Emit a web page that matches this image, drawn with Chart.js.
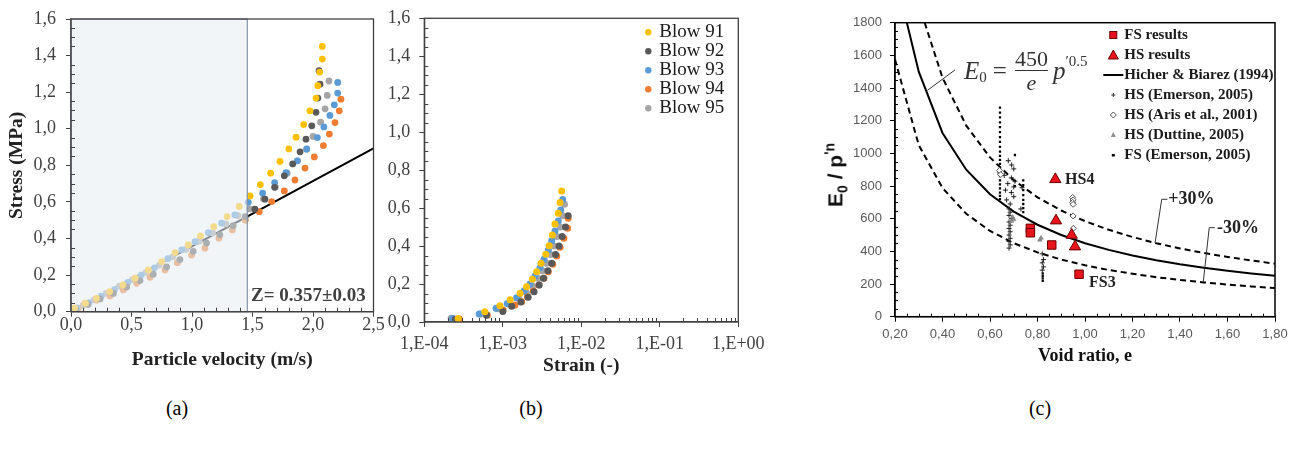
<!DOCTYPE html>
<html>
<head>
<meta charset="utf-8">
<script src="https://cdn.jsdelivr.net/npm/chart.js@4.4.0/dist/chart.umd.min.js"></script>
<style>
  body { margin: 0; background: #fff; width: 1298px; height: 452px; position: relative; overflow: hidden; font-family: "Liberation Serif", serif; }
  .panel { position: absolute; top: 0; height: 380px; }
  #boxA { left: 0; width: 390px; }
  #boxB { left: 340px; width: 440px; }
  #boxC { left: 800px; width: 498px; }
  .cap { position: absolute; top: 397px; font-size: 20px; color: #000; transform: translateX(-50%); }
  #eq { position: absolute; left: 964px; top: 47px; font-family: "Liberation Serif", serif; font-size: 25px; color: #333; display: flex; align-items: center; white-space: nowrap; }
  #eq .it { font-style: italic; }
  #eq .sub { font-size: 15px; position: relative; top: 7px; margin-right: 6px; }
  #eq .op { margin-right: 8px; }
  #eq .frac { display: inline-flex; flex-direction: column; align-items: center; font-size: 22px; line-height: 1.05; margin-right: 5px; }
  #eq .den { border-top: 1.5px solid #333; align-self: stretch; text-align: center; font-style: italic; }
  #eq .sup { font-size: 15px; position: relative; top: -9px; }
  #yTitleC { position: absolute; left: 836px; top: 175px; transform: translate(-50%, -50%) rotate(-90deg); font-family: "Liberation Sans", sans-serif; font-weight: bold; font-size: 21px; color: #111; white-space: nowrap; }
  #yTitleC sub { font-size: 14px; }
  #yTitleC sup { font-size: 14px; }
</style>
</head>
<body>
<div class="panel" id="boxA"><canvas id="chartA"></canvas></div>
<div class="panel" id="boxB"><canvas id="chartB"></canvas></div>
<div class="panel" id="boxC"><canvas id="chartC"></canvas></div>
<div id="eq"><span class="it">E</span><span class="sub">0</span><span class="op">=</span><span class="frac"><span>450</span><span class="den">e</span></span><span class="it">p</span><span class="sup">′0.5</span></div>
<div id="yTitleC">E<sub>0</sub> / p<sup>'n</sup></div>
<div class="cap" style="left:177px">(a)</div>
<div class="cap" style="left:531px">(b)</div>
<div class="cap" style="left:1040px">(c)</div>
<script>
// blows
const blowNames = ['Blow 91', 'Blow 92', 'Blow 93', 'Blow 94', 'Blow 95'];
const blowColors = ['#FFC000', '#595959', '#5B9BD5', '#ED7D31', '#A5A5A5'];

// (a) stress vs particle velocity
const velocity91 = [0.03, 0.12, 0.21, 0.32, 0.43, 0.53, 0.64, 0.75, 0.86, 0.97, 1.07, 1.18, 1.29, 1.39, 1.48, 1.565, 1.65, 1.727, 1.80, 1.86, 1.923, 1.975, 2.025, 2.04, 2.055, 2.077, 2.077];
const stressA91 = [0.02, 0.046, 0.073, 0.11, 0.146, 0.183, 0.228, 0.274, 0.323, 0.365, 0.414, 0.465, 0.52, 0.575, 0.633, 0.695, 0.757, 0.821, 0.89, 0.954, 1.023, 1.098, 1.168, 1.235, 1.31, 1.381, 1.45];
const velocity92 = [0.04, 0.14, 0.24, 0.35, 0.46, 0.57, 0.68, 0.79, 0.90, 1.01, 1.12, 1.23, 1.34, 1.44, 1.52, 1.603, 1.683, 1.763, 1.832, 1.893, 1.942, 1.99, 2.025, 2.04, 2.058, 2.05];
const stressA92 = [0.01, 0.04, 0.07, 0.1, 0.135, 0.17, 0.205, 0.245, 0.285, 0.33, 0.375, 0.42, 0.47, 0.52, 0.56, 0.615, 0.68, 0.743, 0.808, 0.874, 0.943, 1.016, 1.09, 1.168, 1.244, 1.317];
const velocity93 = [0.05, 0.15, 0.25, 0.36, 0.47, 0.58, 0.69, 0.80, 0.915, 1.025, 1.135, 1.245, 1.355, 1.465, 1.584, 1.683, 1.777, 1.87, 1.948, 2.036, 2.09, 2.14, 2.176, 2.204, 2.204];
const stressA93 = [0.02, 0.05, 0.085, 0.12, 0.16, 0.2, 0.24, 0.29, 0.338, 0.383, 0.432, 0.484, 0.529, 0.598, 0.648, 0.706, 0.76, 0.825, 0.89, 0.952, 1.01, 1.073, 1.131, 1.195, 1.253];
const velocity94 = [0.06, 0.116, 0.212, 0.322, 0.432, 0.543, 0.653, 0.777, 0.879, 0.997, 1.107, 1.223, 1.333, 1.44, 1.556, 1.659, 1.763, 1.851, 1.934, 2.011, 2.086, 2.135, 2.182, 2.217, 2.231];
const stressA94 = [0.02, 0.046, 0.064, 0.086, 0.119, 0.155, 0.188, 0.228, 0.268, 0.31, 0.347, 0.402, 0.447, 0.50, 0.547, 0.602, 0.66, 0.72, 0.785, 0.846, 0.908, 0.971, 1.034, 1.098, 1.162];
const velocity95 = [0.02, 0.10, 0.19, 0.29, 0.40, 0.51, 0.62, 0.73, 0.84, 0.95, 1.06, 1.17, 1.28, 1.38, 1.474, 1.59, 1.689, 1.787, 1.873, 1.948, 2.0, 2.063, 2.1, 2.118, 2.132];
const stressA95 = [0.01, 0.035, 0.065, 0.1, 0.14, 0.175, 0.215, 0.255, 0.3, 0.34, 0.385, 0.43, 0.48, 0.525, 0.562, 0.617, 0.681, 0.757, 0.825, 0.888, 0.958, 1.036, 1.109, 1.182, 1.261];
const zValue = 0.357;
const zLabel = 'Z= 0.357±0.03';
const zRange = [0, 2.5];

// (b) stress vs strain
const strain91 = [2.7e-4, 5.9e-4, 9.2e-4, 1.24e-3, 1.66e-3, 2.01e-3, 2.38e-3, 2.70e-3, 3.07e-3, 3.52e-3, 3.89e-3, 4.27e-3, 4.62e-3, 5.09e-3, 5.36e-3, 5.62e-3];
const stressB91 = [0.019, 0.054, 0.086, 0.117, 0.151, 0.186, 0.225, 0.265, 0.309, 0.357, 0.402, 0.458, 0.516, 0.573, 0.629, 0.69];
const strain92 = [2.5e-4, 6.2e-4, 1.0e-3, 1.3e-3, 1.7e-3, 2.1e-3, 2.5e-3, 2.9e-3, 3.3e-3, 3.75e-3, 4.2e-3, 4.7e-3, 5.2e-3, 5.7e-3, 6.3e-3, 6.8e-3];
const stressB92 = [0.015, 0.035, 0.055, 0.083, 0.105, 0.13, 0.16, 0.195, 0.23, 0.27, 0.31, 0.355, 0.40, 0.45, 0.50, 0.56];
const strain93 = [2.3e-4, 5.0e-4, 8.2e-4, 1.14e-3, 1.5e-3, 1.86e-3, 2.22e-3, 2.57e-3, 2.98e-3, 3.35e-3, 3.8e-3, 4.2e-3, 4.62e-3, 5.09e-3, 5.46e-3, 5.8e-3];
const stressB93 = [0.019, 0.042, 0.072, 0.098, 0.128, 0.163, 0.2, 0.242, 0.286, 0.33, 0.379, 0.428, 0.479, 0.532, 0.59, 0.646];
const strain94 = [2.8e-4, 6.35e-4, 1.01e-3, 1.43e-3, 1.74e-3, 2.07e-3, 2.45e-3, 2.89e-3, 3.35e-3, 3.8e-3, 4.33e-3, 4.87e-3, 5.36e-3, 6.0e-3, 6.7e-3, 6.8e-3];
const stressB94 = [0.016, 0.037, 0.063, 0.09, 0.107, 0.133, 0.163, 0.195, 0.23, 0.265, 0.304, 0.348, 0.394, 0.441, 0.494, 0.546];
const strain95 = [2.2e-4, 5.2e-4, 8.6e-4, 1.2e-3, 1.6e-3, 2.0e-3, 2.4e-3, 2.8e-3, 3.2e-3, 3.6e-3, 4.05e-3, 4.5e-3, 4.9e-3, 5.4e-3, 5.8e-3, 6.1e-3];
const stressB95 = [0.02, 0.042, 0.07, 0.095, 0.125, 0.155, 0.19, 0.23, 0.27, 0.31, 0.355, 0.40, 0.45, 0.50, 0.56, 0.62];
const strainDecades = [1e-4, 1e-3, 1e-2, 1e-1, 1];

// (c) normalised stiffness vs void ratio
const voidHicher = [0.25, 0.3, 0.4, 0.5, 0.6, 0.7, 0.8, 0.9, 1.0, 1.1, 1.2, 1.3, 1.4, 1.5, 1.6, 1.7, 1.8];
const normHicher = [1800, 1500, 1125, 900, 750, 643, 563, 500, 450, 409, 375, 346, 321, 300, 281, 265, 250];
const voidUpper = [0.325, 0.4, 0.5, 0.6, 0.7, 0.8, 0.9, 1.0, 1.1, 1.2, 1.3, 1.4, 1.5, 1.6, 1.7, 1.8];
const normUpper = [1800, 1463, 1170, 975, 836, 731, 650, 585, 532, 488, 450, 418, 390, 366, 344, 325];
const voidLower = [0.2, 0.3, 0.4, 0.5, 0.6, 0.7, 0.8, 0.9, 1.0, 1.1, 1.2, 1.3, 1.4, 1.5, 1.6, 1.7, 1.8];
const normLower = [1575, 1050, 788, 630, 525, 450, 394, 350, 315, 286, 263, 242, 225, 210, 197, 185, 175];
const fsResVoid = [0.77, 0.77, 0.86, 0.975];
const fsResNorm = [541, 514, 439, 260];
const hsResVoid = [0.875, 0.878, 0.944, 0.958];
const hsResNorm = [841, 588, 500, 429];
const hsEmeVoid = [0.677, 0.691, 0.70, 0.64, 0.66, 0.69, 0.705, 0.675, 0.70, 0.665, 0.69, 0.70, 0.67, 0.685, 0.68, 0.685, 0.68, 0.69, 0.68, 0.685, 0.68, 0.685, 0.68, 0.685, 0.68, 0.685, 0.68, 0.82, 0.825, 0.82, 0.825, 0.82, 0.735, 0.73];
const hsEmeNorm = [955, 929, 905, 880, 865, 850, 830, 815, 795, 775, 760, 735, 715, 690, 660, 640, 620, 600, 580, 560, 540, 520, 500, 480, 460, 440, 420, 385, 350, 330, 305, 285, 790, 660];
const arisVoid = [0.64, 0.645, 0.948, 0.95, 0.948, 0.95, 0.95, 0.951];
const arisNorm = [895, 870, 730, 715, 700, 688, 617, 541];
const duttVoid = [0.695, 0.70, 0.69, 0.81, 0.815, 0.64];
const duttNorm = [610, 595, 585, 470, 482, 900];
const fsEmeVoid = [0.642, 0.642, 0.642, 0.642, 0.642, 0.642, 0.642, 0.642, 0.642, 0.642, 0.642, 0.642, 0.642, 0.642, 0.642, 0.642, 0.642, 0.642, 0.642, 0.642, 0.642, 0.642, 0.705, 0.705, 0.705, 0.74, 0.74, 0.74, 0.74, 0.74, 0.74, 0.74, 0.74, 0.822, 0.822, 0.822, 0.822];
const fsEmeNorm = [1280, 1250, 1220, 1190, 1160, 1130, 1100, 1070, 1040, 1010, 985, 960, 935, 910, 885, 860, 835, 810, 785, 760, 740, 720, 990, 830, 800, 835, 805, 775, 745, 715, 690, 665, 640, 265, 250, 235, 220];
const legendC = ['FS results', 'HS results', 'Hicher & Biarez (1994)', 'HS (Emerson, 2005)', 'HS (Aris et al., 2001)', 'HS (Duttine, 2005)', 'FS (Emerson, 2005)'];

function pairs(xs, ys) {
    return xs.map((x, i) => ({ x: x, y: ys[i] }));
}

const serif = '"Liberation Serif", serif';
const sans = '"Liberation Sans", sans-serif';
Chart.defaults.font.family = serif;
Chart.defaults.animation = false;

// little inward ticks between the labelled ones
function minorTicks(xVals, yVals, len, color) {
    return {
        id: 'minorTicks',
        afterDraw(chart) {
            const { ctx, chartArea: a, scales: { x, y } } = chart;
            ctx.save();
            ctx.strokeStyle = color;
            ctx.lineWidth = 1;
            ctx.beginPath();
            xVals.forEach(v => {
                const px = Math.round(x.getPixelForValue(v)) + 0.5;
                ctx.moveTo(px, a.bottom);
                ctx.lineTo(px, a.bottom - len);
            });
            yVals.forEach(v => {
                const py = Math.round(y.getPixelForValue(v)) + 0.5;
                ctx.moveTo(a.left, py);
                ctx.lineTo(a.left + len, py);
            });
            ctx.stroke();
            ctx.restore();
        }
    };
}

// plot frame
function frame(color, width) {
    return {
        id: 'frame',
        afterDraw(chart) {
            const { ctx, chartArea: a } = chart;
            ctx.save();
            ctx.strokeStyle = color;
            ctx.lineWidth = width;
            ctx.strokeRect(a.left, a.top, a.right - a.left, a.bottom - a.top);
            ctx.restore();
        }
    };
}

function axisOpts(color, fontSize, pad, family) {
    return {
        grid: { drawOnChartArea: false, drawTicks: true, tickLength: 5, color: color },
        border: { color: color, width: 1.3 },
        ticks: { color: color, padding: pad, font: { family: family, size: fontSize, lineHeight: 1 } }
    };
}

function comma(d) {
    return v => v.toFixed(d).replace('.', ',');
}

// ---------- (a) ----------
const velTicksMinor = [];
for (let i = 1; i < 25; i++) if (i % 5) velTicksMinor.push(i / 10);
const stressTicksMinor = [];
for (let i = 1; i < 32; i++) if (i % 4) stressTicksMinor.push(i * 0.05);

const velocities = [velocity91, velocity92, velocity93, velocity94, velocity95];
const stressesA = [stressA91, stressA92, stressA93, stressA94, stressA95];
const shadeTo = 1.457;

const shadeZone = {
    id: 'shadeZone',
    afterDatasetsDraw(chart) {
        const { ctx, chartArea: a, scales: { x, y } } = chart;
        const xr = x.getPixelForValue(shadeTo);
        ctx.save();
        ctx.fillStyle = 'rgba(232, 237, 242, 0.58)';
        ctx.fillRect(a.left, a.top, xr - a.left, a.bottom - a.top);
        ctx.strokeStyle = '#8493a8';
        ctx.lineWidth = 1.2;
        ctx.strokeRect(a.left, a.top, xr - a.left, a.bottom - a.top);
        ctx.font = 'bold 19px ' + serif;
        ctx.fillStyle = '#404040';
        ctx.textBaseline = 'middle';
        ctx.fillText(zLabel, x.getPixelForValue(1.488), y.getPixelForValue(0.086));
        ctx.restore();
    }
};

const axA = axisOpts('#404040', 18, 0, serif);
const ayA = axisOpts('#404040', 18, 10, serif);
new Chart(document.getElementById('chartA'), {
    type: 'scatter',
    data: {
        datasets: blowNames.map((name, i) => ({
            label: name,
            data: pairs(velocities[i], stressesA[i]),
            backgroundColor: blowColors[i],
            borderWidth: 0,
            pointRadius: 3.4
        })).concat([{
            label: 'Z',
            data: pairs(zRange, zRange.map(v => v * zValue)),
            showLine: true,
            borderColor: '#000',
            borderWidth: 2,
            pointRadius: 0
        }])
    },
    options: {
        responsive: true,
        maintainAspectRatio: false,
        layout: { padding: { top: 19, right: 16.5, bottom: 0, left: 0 } },
        plugins: { legend: { display: false }, tooltip: { enabled: false } },
        scales: {
            x: Object.assign(axA, {
                type: 'linear', min: 0, max: 2.5,
                ticks: Object.assign(axA.ticks, { stepSize: 0.5, callback: comma(1) }),
                title: { display: true, text: 'Particle velocity (m/s)', color: '#222', font: { size: 19.5, weight: 'bold' }, padding: { top: 0, bottom: 8.3 } },
                afterFit: s => { s.height = 68.3; }
            }),
            y: Object.assign(ayA, {
                min: 0, max: 1.6,
                ticks: Object.assign(ayA.ticks, { stepSize: 0.2, callback: comma(1) }),
                title: { display: true, text: 'Stress (MPa)', color: '#222', font: { size: 19.5, weight: 'bold' }, padding: { top: 5.3, bottom: 0 } },
                afterFit: s => { s.width = 71; }
            })
        }
    },
    plugins: [shadeZone, minorTicks(velTicksMinor, stressTicksMinor, 4, '#404040'), frame('#404040', 1.3)]
});

// ---------- (b) ----------
const strains = [strain91, strain92, strain93, strain94, strain95];
const stressesB = [stressB91, stressB92, stressB93, stressB94, stressB95];
const strainTicksMinor = [];
strainDecades.slice(0, 4).forEach(d => { for (let k = 2; k < 10; k++) strainTicksMinor.push(d * k); });

const legendBlows = {
    id: 'legendBlows',
    afterDraw(chart) {
        const { ctx, chartArea: a } = chart;
        ctx.save();
        ctx.font = '19px ' + serif;
        ctx.textBaseline = 'middle';
        blowNames.forEach((name, i) => {
            const yy = a.top + 14 + i * 19;
            ctx.beginPath();
            ctx.arc(a.right - 90, yy, 3.2, 0, Math.PI * 2);
            ctx.fillStyle = blowColors[i];
            ctx.fill();
            ctx.fillStyle = '#1a1a1a';
            ctx.fillText(name, a.right - 79, yy);
        });
        ctx.restore();
    }
};

function decadeLabel(v) {
    const e = Math.round(Math.log10(v));
    return '1,E' + (e < 0 ? '-' : '+') + String(Math.abs(e)).padStart(2, '0');
}

const axB = axisOpts('#404040', 18, 8, serif);
const ayB = axisOpts('#404040', 18, 9, serif);
new Chart(document.getElementById('chartB'), {
    type: 'scatter',
    data: {
        datasets: blowNames.map((name, i) => ({
            label: name,
            data: pairs(strains[i], stressesB[i]),
            backgroundColor: blowColors[i],
            borderWidth: 0,
            pointRadius: 3.5
        }))
    },
    options: {
        responsive: true,
        maintainAspectRatio: false,
        layout: { padding: { top: 18.3, right: 41.7, bottom: 0, left: 0 } },
        plugins: { legend: { display: false }, tooltip: { enabled: false } },
        scales: {
            x: Object.assign(axB, {
                type: 'logarithmic', min: 1e-4, max: 1,
                afterBuildTicks: s => { s.ticks = strainDecades.map(v => ({ value: v })); },
                ticks: Object.assign(axB.ticks, { callback: decadeLabel }),
                title: { display: true, text: 'Strain (-)', color: '#222', font: { size: 19.5, weight: 'bold' }, padding: { top: 0, bottom: 2.6 } },
                afterFit: s => { s.height = 58; }
            }),
            y: Object.assign(ayB, {
                min: 0, max: 1.6,
                ticks: Object.assign(ayB.ticks, { stepSize: 0.2, callback: comma(1) }),
                afterFit: s => { s.width = 84.3; }
            })
        }
    },
    plugins: [legendBlows, minorTicks(strainTicksMinor, stressTicksMinor, 4, '#404040'), frame('#404040', 1.3)]
});

// ---------- (c) ----------
const voidTicksMinor = [];
for (let i = 5; i < 36; i++) if (i % 4 !== 0) voidTicksMinor.push(i * 0.05);
const normTicksMinor = [];
for (let i = 1; i < 36; i++) if (i % 4) normTicksMinor.push(i * 50);

const red = '#e8141b';
const redEdge = '#6b0000';

const notes = {
    id: 'notes',
    afterDraw(chart) {
        const { ctx, scales: { x, y } } = chart;
        const P = (e, v) => [x.getPixelForValue(e), y.getPixelForValue(v)];
        const path = pts => {
            ctx.beginPath();
            pts.forEach((p, i) => { const q = P(p[0], p[1]); i ? ctx.lineTo(q[0], q[1]) : ctx.moveTo(q[0], q[1]); });
            ctx.stroke();
        };
        ctx.save();
        ctx.strokeStyle = '#333';
        ctx.lineWidth = 1;
        path([[0.4526, 1511], [0.336, 1385]]);
        path([[1.347, 719], [1.323, 719], [1.295, 452]]);
        path([[1.547, 545], [1.523, 545], [1.498, 212]]);
        ctx.fillStyle = '#222';
        ctx.textBaseline = 'middle';
        ctx.font = 'bold 18px ' + serif;
        let q = P(1.35, 716); ctx.fillText('+30%', q[0], q[1]);
        q = P(1.556, 540); ctx.fillText('-30%', q[0], q[1]);
        ctx.font = 'bold 16px ' + serif;
        q = P(0.916, 838); ctx.fillText('HS4', q[0], q[1]);
        q = P(1.017, 206); ctx.fillText('FS3', q[0], q[1]);

        // legend
        const a = chart.chartArea;
        const mx = a.right - 161.7;
        ctx.font = 'bold 15px ' + serif;
        legendC.forEach((name, i) => {
            const yy = a.top + 12.3 + i * 20;
            ctx.lineWidth = 1;
            if (i === 0) {
                ctx.fillStyle = red; ctx.strokeStyle = redEdge;
                ctx.fillRect(mx - 3.5, yy - 3.5, 7, 7); ctx.strokeRect(mx - 3.5, yy - 3.5, 7, 7);
            } else if (i === 1) {
                ctx.fillStyle = red; ctx.strokeStyle = redEdge;
                ctx.beginPath(); ctx.moveTo(mx, yy - 5); ctx.lineTo(mx + 5, yy + 4); ctx.lineTo(mx - 5, yy + 4); ctx.closePath();
                ctx.fill(); ctx.stroke();
            } else if (i === 2) {
                ctx.strokeStyle = '#000'; ctx.lineWidth = 2;
                ctx.beginPath(); ctx.moveTo(mx - 10, yy); ctx.lineTo(mx + 10, yy); ctx.stroke();
            } else if (i === 3) {
                ctx.strokeStyle = '#333';
                ctx.beginPath(); ctx.moveTo(mx - 2, yy); ctx.lineTo(mx + 2, yy); ctx.moveTo(mx, yy - 2); ctx.lineTo(mx, yy + 2); ctx.stroke();
            } else if (i === 4) {
                ctx.strokeStyle = '#555'; ctx.fillStyle = '#fff';
                ctx.beginPath(); ctx.moveTo(mx, yy - 3); ctx.lineTo(mx + 3, yy); ctx.lineTo(mx, yy + 3); ctx.lineTo(mx - 3, yy); ctx.closePath();
                ctx.fill(); ctx.stroke();
            } else if (i === 5) {
                ctx.fillStyle = '#8c8c8c';
                ctx.beginPath(); ctx.moveTo(mx, yy - 3); ctx.lineTo(mx + 2.5, yy + 2); ctx.lineTo(mx - 2.5, yy + 2); ctx.closePath(); ctx.fill();
            } else {
                ctx.fillStyle = '#000';
                ctx.fillRect(mx - 1.5, yy - 1, 3, 2.5);
            }
            ctx.fillStyle = '#1a1a1a';
            ctx.fillText(name, mx + 11, yy);
        });
        ctx.restore();
    }
};

const axC = axisOpts('#000', 13, 6, sans);
const ayC = axisOpts('#000', 13, 8, sans);
axC.ticks.color = '#595959';
ayC.ticks.color = '#595959';
new Chart(document.getElementById('chartC'), {
    type: 'scatter',
    data: {
        datasets: [
            { label: 'FS results', data: pairs(fsResVoid, fsResNorm), pointStyle: 'rect', pointRadius: 6, backgroundColor: red, borderColor: redEdge, borderWidth: 1 },
            { label: 'HS results', data: pairs(hsResVoid, hsResNorm), pointStyle: 'triangle', pointRadius: 6.5, backgroundColor: red, borderColor: redEdge, borderWidth: 1 },
            { label: 'HS (Aris et al., 2001)', data: pairs(arisVoid, arisNorm), pointStyle: 'rectRot', pointRadius: 3, backgroundColor: '#fff', borderColor: '#555', borderWidth: 1 },
            { label: 'HS (Duttine, 2005)', data: pairs(duttVoid, duttNorm), pointStyle: 'triangle', pointRadius: 2.6, backgroundColor: '#8c8c8c', borderColor: '#777', borderWidth: 0.5 },
            { label: 'HS (Emerson, 2005)', data: pairs(hsEmeVoid, hsEmeNorm), pointStyle: 'cross', pointRadius: 2.5, borderColor: '#222', borderWidth: 1 },
            { label: 'FS (Emerson, 2005)', data: pairs(fsEmeVoid, fsEmeNorm), pointStyle: 'rect', pointRadius: 1.6, backgroundColor: '#000', borderColor: '#000', borderWidth: 0 },
            { label: 'Hicher & Biarez (1994)', data: pairs(voidHicher, normHicher), showLine: true, borderColor: '#000', borderWidth: 2, pointRadius: 0 },
            { label: '+30%', data: pairs(voidUpper, normUpper), showLine: true, borderColor: '#000', borderWidth: 2, borderDash: [6, 4], pointRadius: 0 },
            { label: '-30%', data: pairs(voidLower, normLower), showLine: true, borderColor: '#000', borderWidth: 2, borderDash: [6, 4], pointRadius: 0 }
        ]
    },
    options: {
        responsive: true,
        maintainAspectRatio: false,
        layout: { padding: { top: 22.7, right: 23, bottom: 0, left: 0 } },
        plugins: { legend: { display: false }, tooltip: { enabled: false } },
        scales: {
            x: Object.assign(axC, {
                type: 'linear', min: 0.2, max: 1.8,
                ticks: Object.assign(axC.ticks, { stepSize: 0.2, callback: comma(2) }),
                title: { display: true, text: 'Void ratio, e', color: '#111', font: { family: serif, size: 18, weight: 'bold' }, padding: { top: 0, bottom: 12.5 } },
                afterFit: s => { s.height = 63.3; }
            }),
            y: Object.assign(ayC, {
                min: 0, max: 1800,
                ticks: Object.assign(ayC.ticks, { stepSize: 200, callback: v => String(v) }),
                afterFit: s => { s.width = 95; }
            })
        }
    },
    plugins: [notes, minorTicks(voidTicksMinor, normTicksMinor, 3, '#000'), frame('#000', 1.5)]
});
</script>
</body>
</html>
